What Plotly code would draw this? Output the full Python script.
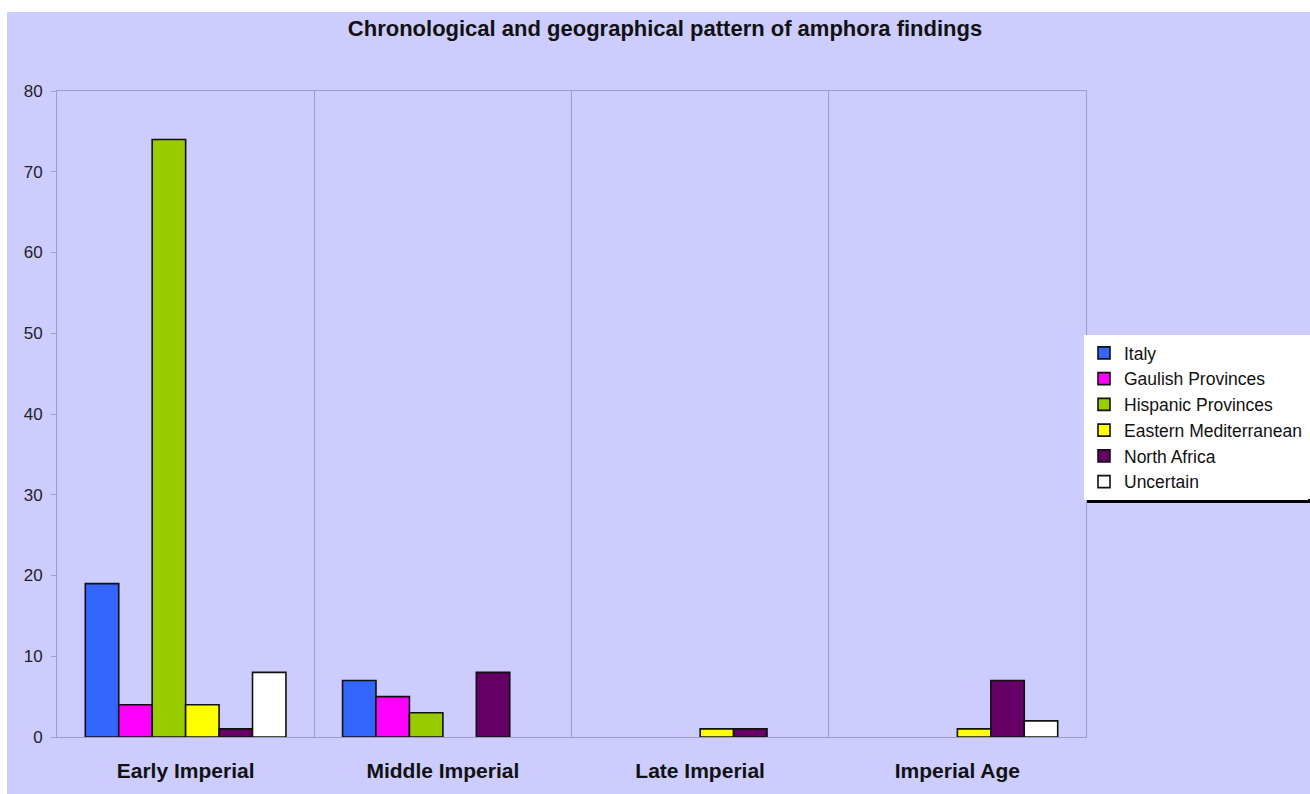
import plotly.graph_objects as go

categories = ["Early Imperial", "Middle Imperial", "Late Imperial", "Imperial Age"]
series_names = ["Italy", "Gaulish Provinces", "Hispanic Provinces",
                "Eastern Mediterranean", "North Africa", "Uncertain"]
italy = [19, 7, None, None]
gaulish = [4, 5, None, None]
hispanic = [74, 3, None, None]
eastern = [4, None, 1, 1]
north_africa = [1, 8, 1, 7]
uncertain = [8, None, None, 2]
y_ticks = [0, 10, 20, 30, 40, 50, 60, 70, 80]

colors = ["#3366FF", "#FF00FF", "#99CC00", "#FFFF00", "#660066", "#FFFFFF"]
series = [italy, gaulish, hispanic, eastern, north_africa, uncertain]

fig = go.Figure()
for name, vals, col in zip(series_names, series, colors):
    fig.add_trace(go.Bar(
        x=categories, y=vals, name=name,
        marker=dict(color=col, line=dict(color="#111111", width=1.6)),
    ))

BG = "#CCCCFF"
GRID = "#9C9CC4"
W, H = 1310, 794
L, R, T, B = 57, 224, 91, 57
pw, ph = W - L - R, H - T - B

def px(x):
    return (x - L) / pw

def py(y):
    return (H - B - y) / ph

# lavender background region (top strip and left strip stay white)
fig.add_shape(type="rect", xref="paper", yref="paper",
              x0=px(7), x1=px(W + 5), y0=py(H + 5), y1=py(12),
              fillcolor=BG, line=dict(width=0), layer="below")
# legend shadow (only the part below the legend box shows)
fig.add_shape(type="rect", xref="paper", yref="paper",
              x0=px(1087), x1=px(W + 5), y0=py(503), y1=py(340),
              fillcolor="#000000", line=dict(width=0), layer="above")
# legend box continues to the right edge of the picture
fig.add_shape(type="rect", xref="paper", yref="paper",
              x0=px(1290), x1=px(W + 5), y0=py(499), y1=py(335),
              fillcolor="#FFFFFF", line=dict(width=0), layer="above")

FONT = "Liberation Sans, Arial, sans-serif"
fig.update_layout(
    width=W, height=H,
    margin=dict(l=L, r=R, t=T, b=B, pad=0, autoexpand=False),
    paper_bgcolor="#FFFFFF",
    plot_bgcolor="rgba(0,0,0,0)",
    barmode="group",
    bargap=0.22,
    bargroupgap=0,
    font=dict(family=FONT, color="#111111"),
    title=dict(text="<b>Chronological and geographical pattern of amphora findings</b>",
               xref="container", x=665 / W, xanchor="center",
               yref="container", y=1 - 28 / H, yanchor="middle",
               font=dict(size=22, color="#111111", family=FONT)),
    showlegend=True,
    legend=dict(x=px(1084), xanchor="left", y=py(335), yanchor="top",
                bgcolor="#FFFFFF", bordercolor="#FFFFFF", borderwidth=0,
                font=dict(size=17.5, color="#111111", family=FONT),
                traceorder="normal", itemwidth=30),
    xaxis=dict(
        type="category", tickson="boundaries",
        showgrid=True, gridcolor=GRID, gridwidth=1,
        showline=True, linecolor=GRID, linewidth=1, mirror=True,
        ticks="", tickfont=dict(size=21, color="#111111", family=FONT),
        ticklabelstandoff=15,
        tickprefix="<b>", ticksuffix="</b>",
        range=[-0.5, 3.5], zeroline=False,
    ),
    yaxis=dict(
        range=[0, 80], tickvals=y_ticks, showgrid=False,
        showline=True, linecolor=GRID, linewidth=1, mirror=True,
        ticks="outside", ticklen=5, tickcolor=GRID,
        tickfont=dict(size=17, color="#222222", family=FONT),
        ticklabelstandoff=5,
        zeroline=False,
    ),
)

fig.write_html("out.html",
               config={"displayModeBar": False},
               post_script="document.body.style.margin='0';document.body.style.overflow='hidden';")
